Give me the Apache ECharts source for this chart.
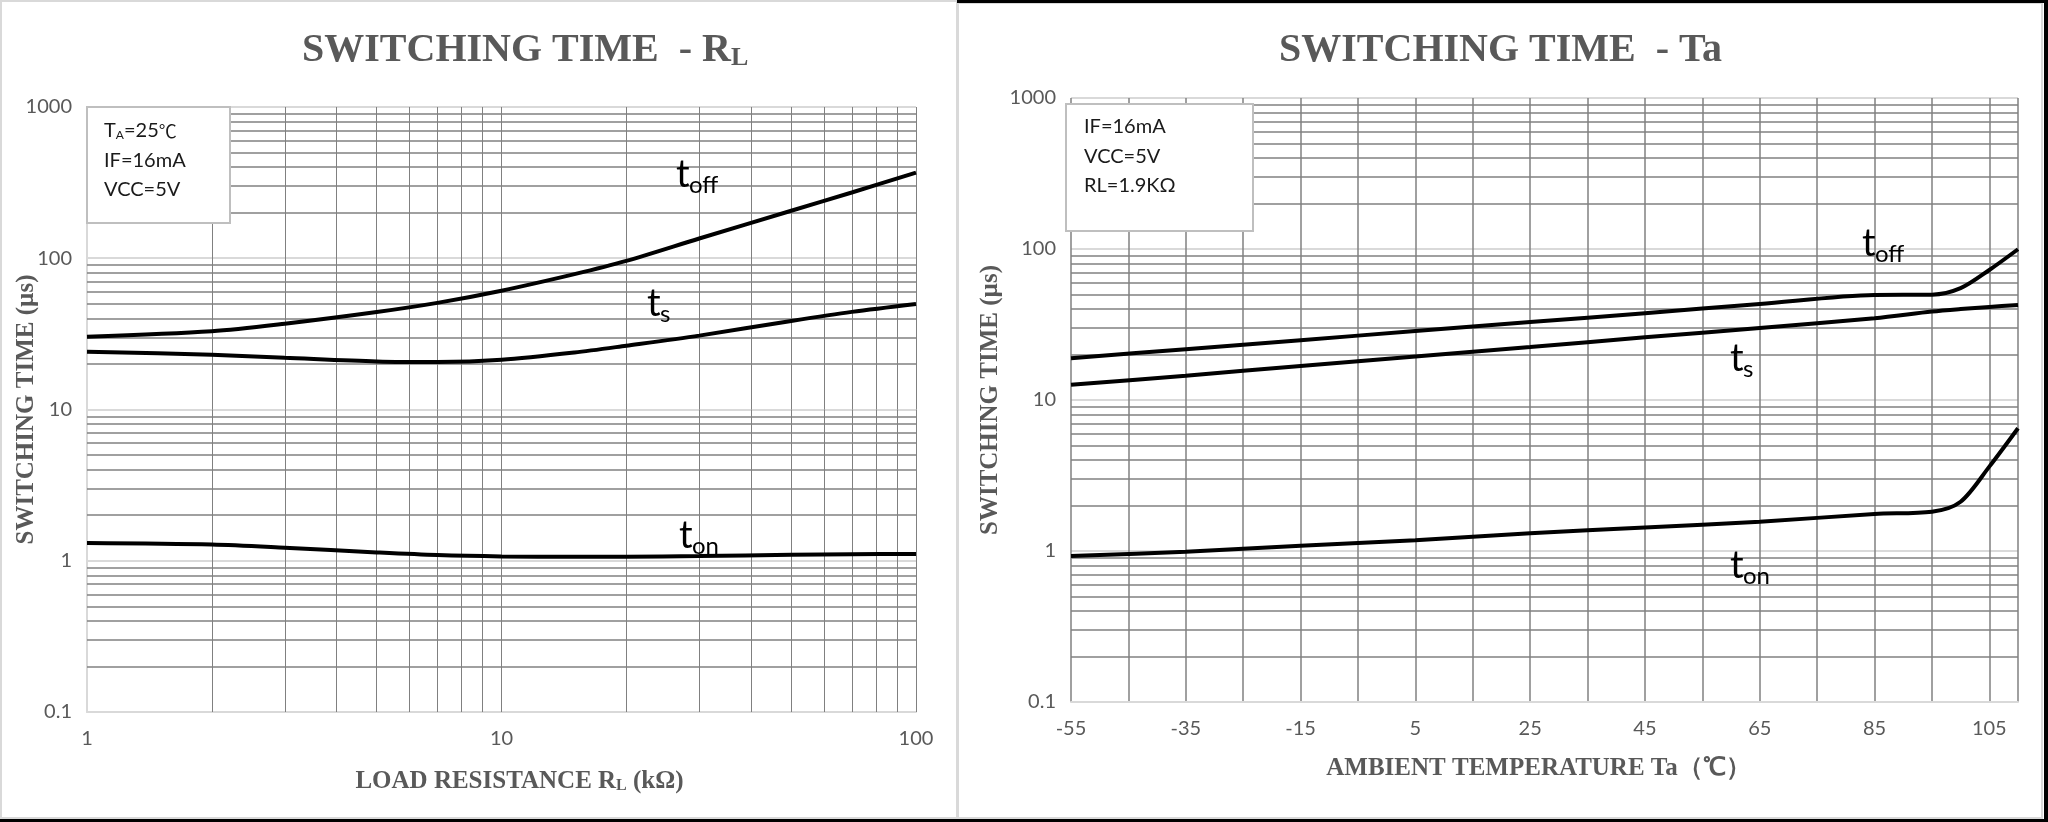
<!DOCTYPE html>
<html>
<head>
<meta charset="utf-8">
<title>Switching time</title>
<script src="https://cdn.jsdelivr.net/npm/echarts@6/dist/echarts.min.js"></script>
<style>
html, body { margin: 0; padding: 0; background: #fff; }
#chart { width: 2048px; height: 822px; }
</style>
</head>
<body>
<div id="chart"></div>
<script>
// switching time vs load resistance (kOhm), Ta = 25C
var rlValues = [1, 2, 3, 5, 7, 10, 15, 20, 30, 50, 70, 100];
var rlToff = [30.3, 32.9, 36.9, 44.1, 50.7, 61, 78.5, 96, 135, 206, 272, 368];
var rlTs = [24.1, 23, 22, 20.8, 20.6, 21.3, 23.8, 26.4, 30.8, 38.5, 44.2, 49.9];
var rlTon = [1.31, 1.28, 1.22, 1.135, 1.09, 1.068, 1.062, 1.063, 1.074, 1.095, 1.103, 1.11];

// switching time vs ambient temperature (C), RL = 1.9k
var taValues = [-55, -35, -15, 5, 25, 45, 65, 85, 95, 100, 105, 110];
var taToff = [18.9, 21.7, 24.9, 28.6, 32.8, 37.6, 43.2, 49.6, 49.8, 55, 72.6, 99.6];
var taTs = [12.6, 14.5, 16.8, 19.4, 22.4, 26, 30, 34.8, 38.5, 40, 41.3, 42.6];
var taTon = [0.927, 0.99, 1.084, 1.18, 1.31, 1.43, 1.56, 1.76, 1.82, 2.12, 3.62, 6.5];

// grid / tick values
var rlGridLines = [2, 3, 4, 5, 6, 7, 8, 9, 10, 20, 30, 40, 50, 60, 70, 80, 90, 100];
var timeMinorLines = [0.2, 0.3, 0.4, 0.5, 0.6, 0.7, 0.8, 0.9,
    2, 3, 4, 5, 6, 7, 8, 9, 20, 30, 40, 50, 60, 70, 80, 90,
    200, 300, 400, 500, 600, 700, 800, 900];
var taTickLabels = [-55, -35, -15, 5, 25, 45, 65, 85, 105];
var taGridLines = [-55, -45, -35, -25, -15, -5, 5, 15, 25, 35, 45, 55, 65, 75, 85, 95, 105, 110];

var sansFont = 'Lato, "Noto Sans", sans-serif';
var serifFont = '"Liberation Serif", "Times New Roman", serif';
var gray = '#595959';
var lightLine = '#d9d9d9';
var darkLine = '#808080';

function pairs(xs, ys){
    return xs.map(function (x, i) { return [x, ys[i]]; });
}

function curve(name, idx, xs, ys){
    return {
        type: 'line',
        name: name,
        xAxisIndex: idx,
        yAxisIndex: idx,
        data: pairs(xs, ys),
        smooth: 0.3,
        showSymbol: false,
        silent: true,
        z: 5,
        lineStyle: { color: '#000', width: 4 }
    };
}

function gridLines(idx, xVals, yVals, xWidth){
    var items = [];
    xVals.forEach(function (v) {
        items.push({ xAxis: v, lineStyle: { color: darkLine, width: xWidth, type: 'solid' } });
    });
    yVals.forEach(function (v) {
        items.push({ yAxis: v, lineStyle: { color: darkLine, width: 1.5, type: 'solid' } });
    });
    return {
        type: 'line',
        xAxisIndex: idx,
        yAxisIndex: idx,
        data: [],
        silent: true,
        z: 1,
        markLine: {
            silent: true,
            animation: false,
            symbol: ['none', 'none'],
            label: { show: false },
            emphasis: { disabled: true },
            data: items
        }
    };
}

function timeAxis(idx, gap, showLine){
    return {
        type: 'log',
        logBase: 10,
        gridIndex: idx,
        min: 0.1,
        max: 1000,
        name: 'SWITCHING TIME (µs)',
        nameLocation: 'middle',
        nameGap: gap,
        nameMoveOverlap: false,
        nameTextStyle: { fontFamily: serifFont, fontWeight: 'bold', fontSize: 25, color: gray },
        axisLine: { show: showLine, onZero: false, lineStyle: { color: lightLine, width: 2 } },
        axisTick: { show: false },
        axisLabel: {
            fontFamily: sansFont, fontSize: 20, color: gray, margin: 15,
            formatter: function (v) { return String(+(+v).toPrecision(6)); }
        },
        splitLine: { show: true, lineStyle: { color: lightLine, width: 2 } }
    };
}

function note(x, y, main, sub, subDx){
    return [
        { type: 'text', x: x, y: y, silent: true, z: 50,
          style: { text: main, font: '38px ' + sansFont, fill: '#000', verticalAlign: 'middle' } },
        { type: 'text', x: x + subDx, y: y + 10, silent: true, z: 50,
          style: { text: sub, font: '24px ' + sansFont, fill: '#000', verticalAlign: 'middle' } }
    ];
}

function infoBox(x, y, w, h, lines, tx, ty0, dy){
    var els = [{ type: 'rect', shape: { x: x, y: y, width: w, height: h }, silent: true, z: 40,
        style: { fill: '#fff', stroke: '#bfbfbf', lineWidth: 2 } }];
    lines.forEach(function (t, i) {
        els.push({ type: 'text', x: tx, y: ty0 + i * dy, silent: true, z: 41,
            style: { text: t, font: '20px ' + sansFont, fill: '#1a1a1a', verticalAlign: 'middle',
                rich: {
                    m: { fontSize: 20, fontFamily: sansFont, color: '#1a1a1a' },
                    a: { fontSize: 12, fontFamily: sansFont, color: '#1a1a1a', verticalAlign: 'bottom', padding: [8, 0, 0, 0] },
                    c: { fontSize: 18, fontFamily: '"Noto Sans CJK SC", sans-serif', color: '#555' }
                } } });
    });
    return els;
}

var myChart = echarts.init(document.getElementById('chart'), null, { renderer: 'canvas' });

var graphics = [
    // panel frames
    { type: 'rect', shape: { x: 1, y: 1, width: 956, height: 817 }, silent: true, z: 0,
      style: { fill: 'none', stroke: lightLine, lineWidth: 2 } },
    { type: 'rect', shape: { x: 958, y: 3, width: 1084, height: 815 }, silent: true, z: 0,
      style: { fill: 'none', stroke: lightLine, lineWidth: 2 } },
    { type: 'rect', shape: { x: 957, y: 0, width: 1091, height: 3 }, silent: true, z: 0, style: { fill: '#000' } },
    { type: 'rect', shape: { x: 2044, y: 0, width: 4, height: 822 }, silent: true, z: 0, style: { fill: '#000' } },
    { type: 'rect', shape: { x: 0, y: 819, width: 2048, height: 3 }, silent: true, z: 0, style: { fill: '#000' } }
];
graphics = graphics
    .concat(infoBox(87, 107, 143, 116, ['{m|T}{a|A}{m|=25}{c|℃}', '{m|IF=16mA}', '{m|VCC=5V}'], 104, 131, 29.5))
    .concat(infoBox(1066, 104, 187, 127, ['{m|IF=16mA}', '{m|VCC=5V}', '{m|RL=1.9KΩ}'], 1084, 127, 29.5))
    .concat(note(676, 175, 't', 'off', 13))
    .concat(note(647, 304, 't', 's', 13))
    .concat(note(679, 536, 't', 'on', 13))
    .concat(note(1862, 244, 't', 'off', 13))
    .concat(note(1730, 359, 't', 's', 13))
    .concat(note(1730, 566, 't', 'on', 13));

var option = {
    backgroundColor: '#fff',
    animation: false,
    title: [{
        text: 'SWITCHING TIME  - R{s|L}',
        left: 302,
        top: 31,
        padding: 0,
        textStyle: {
            fontFamily: serifFont, fontWeight: 'bold', fontSize: 40, color: gray,
            rich: { s: { fontFamily: serifFont, fontWeight: 'bold', fontSize: 26, color: gray, verticalAlign: 'bottom', padding: [14, 0, 0, 0] } }
        }
    }, {
        text: 'SWITCHING TIME  - Ta',
        left: 1279,
        top: 31,
        padding: 0,
        textStyle: { fontFamily: serifFont, fontWeight: 'bold', fontSize: 40, color: gray }
    }],
    grid: [
        { left: 87, top: 107, width: 829, height: 605 },
        { left: 1071, top: 98, width: 947, height: 604 }
    ],
    xAxis: [{
        type: 'log',
        logBase: 10,
        gridIndex: 0,
        min: 1,
        max: 100,
        name: 'LOAD RESISTANCE R{s|L} (kΩ)',
        nameLocation: 'middle',
        nameGap: 57,
        nameMoveOverlap: false,
        nameTextStyle: {
            fontFamily: serifFont, fontWeight: 'bold', fontSize: 25, color: gray, padding: [0, 0, 0, 36],
            rich: { s: { fontFamily: serifFont, fontWeight: 'bold', fontSize: 16, color: gray, verticalAlign: 'bottom', padding: [8, 0, 0, 0] } }
        },
        axisLine: { show: true, onZero: false, lineStyle: { color: lightLine, width: 2 } },
        axisTick: { show: false },
        axisLabel: { fontFamily: sansFont, fontSize: 20, color: gray, margin: 17 },
        splitLine: { show: false }
    }, {
        type: 'value',
        gridIndex: 1,
        min: -55,
        max: 110,
        name: 'AMBIENT TEMPERATURE Ta（℃）',
        nameLocation: 'middle',
        nameGap: 54,
        nameMoveOverlap: false,
        nameTextStyle: { fontFamily: serifFont, fontWeight: 'bold', fontSize: 25, color: gray, padding: [0, 12, 0, 0] },
        axisLine: { show: true, onZero: false, lineStyle: { color: lightLine, width: 2 } },
        axisTick: { show: false, customValues: taGridLines },
        axisLabel: { fontFamily: sansFont, fontSize: 20, color: gray, margin: 17, customValues: taTickLabels },
        splitLine: { show: true, lineStyle: { color: darkLine, width: 1.5 } }
    }],
    yAxis: [
        timeAxis(0, 48, true),
        timeAxis(1, 68, false)
    ],
    graphic: graphics,
    series: [
        gridLines(0, rlGridLines, timeMinorLines, 1),
        gridLines(1, [], timeMinorLines, 1.5),
        curve('toff', 0, rlValues, rlToff),
        curve('ts', 0, rlValues, rlTs),
        curve('ton', 0, rlValues, rlTon),
        curve('toff', 1, taValues, taToff),
        curve('ts', 1, taValues, taTs),
        curve('ton', 1, taValues, taTon)
    ]
};

myChart.setOption(option);
</script>
</body>
</html>
